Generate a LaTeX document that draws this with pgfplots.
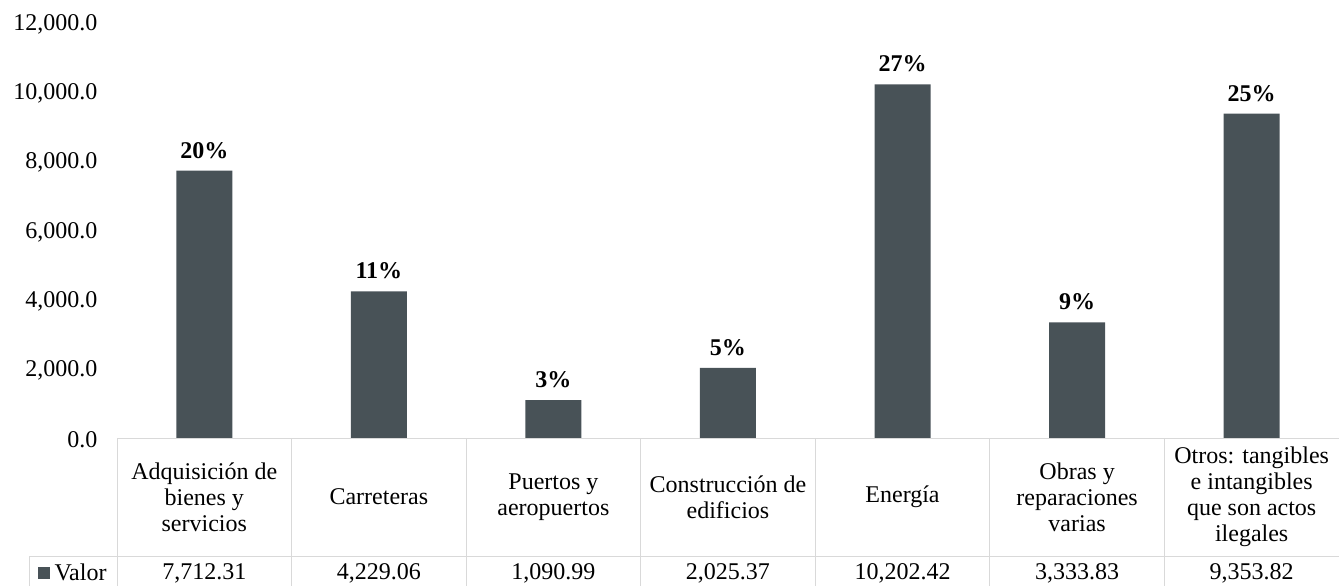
\documentclass[border=0pt]{standalone}
\usepackage{pgfplots}
\pgfplotsset{compat=1.18}
\usepackage{pgfplotstable}
\usepackage{fontspec}
\setmainfont{Liberation Serif}

\definecolor{barcol}{RGB}{72,82,87}
\definecolor{gridcol}{RGB}{217,217,217}

% x = category position, value = monto, pct = share of total
\pgfplotstableread{
x value pct
0 7712.31 20
1 4229.06 11
2 1090.99 3
3 2025.37 5
4 10202.42 27
5 3333.83 9
6 9353.82 25
}\gastos

\begin{document}
\begin{tikzpicture}[font=\fontsize{24bp}{26bp}\selectfont]
\begin{axis}[
  at={(0,0)}, anchor=south west,
  scale only axis, width=1222bp, height=416bp,
  xmin=-0.5, xmax=6.5, ymin=0, ymax=12000,
  clip=false,
  axis line style={draw=none},
  major tick length=0,
  /pgf/number format/assume math mode=true,
  ytick={0,2000,...,12000},
  scaled y ticks=false,
  yticklabel style={/pgf/number format/fixed, /pgf/number format/fixed zerofill,
    /pgf/number format/precision=1, /pgf/number format/1000 sep={,}, xshift=-16bp, yshift=-2bp},
  xtick={0,...,6},
  xticklabels={{Adquisición de\\bienes y\\servicios}, Carreteras, {Puertos y\\aeropuertos},
    {Construcción de\\edificios}, Energía, {Obras y\\reparaciones\\varias},
    {Otros: tangibles\\e intangibles\\que son actos\\ilegales}},
  xticklabel style={align=center, anchor=center, yshift=-59bp},
  legend style={draw=none, fill=none, at={(axis description cs:-0.036,-0.3245)}, anchor=center,
    inner sep=0pt},
  legend image code/.code={\fill[barcol] (0bp,-6bp) rectangle (12bp,6bp); \path (15bp,0);},
  legend cell align=left,
]
\addplot[ybar, bar width=56bp, fill=barcol, draw=none,
  nodes near coords={\pgfmathprintnumber{\pgfplotspointmeta}\%}, point meta=explicit,
  nodes near coords style={font=\fontsize{24bp}{26bp}\selectfont\bfseries, inner sep=12bp}]
  table[x=x, y=value, meta=pct] {\gastos};
\addlegendentry{Valor}
% value row of the data table, printed from the same column
\addplot[draw=none, mark=none, forget plot, nodes near coords, point meta=explicit,
  nodes near coords style={anchor=center, yshift=-135bp,
    /pgf/number format/fixed, /pgf/number format/fixed zerofill,
    /pgf/number format/precision=2, /pgf/number format/1000 sep={,}}]
  table[x=x, y expr=0, meta=value] {\gastos};
\end{axis}
% data table grid
\draw[gridcol, line width=1bp] (0,0) -- (1222bp,0);
\foreach \i in {0,...,7} {
  \draw[gridcol, line width=1bp] ({\i*174.571bp},0) -- ({\i*174.571bp},-160bp);
}
\draw[gridcol, line width=1bp] (-87bp,-118bp) -- (1222bp,-118bp);
\draw[gridcol, line width=1bp] (-87bp,-118bp) -- (-87bp,-160bp);
\pgfresetboundingbox
\path (-117bp,-148bp) rectangle (1222bp,438bp);
\end{tikzpicture}
\end{document}
